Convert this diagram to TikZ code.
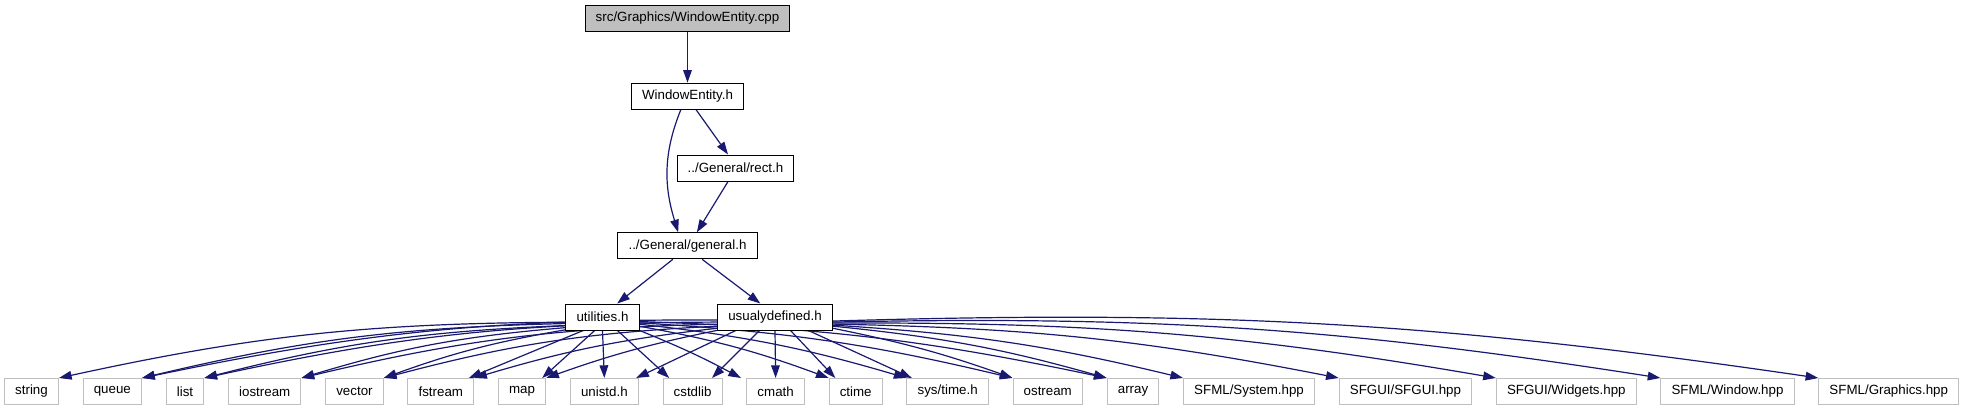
\documentclass[tikz,border=0pt]{standalone}
\usepackage{fontspec}
\setmainfont{Liberation Sans}
\usetikzlibrary{positioning, arrows.meta, backgrounds}
\definecolor{edgeblue}{RGB}{25,25,112}
\definecolor{greyline}{RGB}{191,191,191}

\begin{document}
\begin{tikzpicture}[
    x=0.75pt, y=-0.75pt,
    % Boxes drawn the doxygen way
    file/.style={
        draw=black,
        fill=white,
        rectangle,
        line width=0.75pt,
        minimum height=19.5pt,
        inner xsep=8pt,
        inner ysep=0pt,
        font=\fontsize{10}{12}\selectfont
    },
    mainfile/.style={file, fill=greyline},
    sysfile/.style={file, draw=greyline},
    arr/.style={-{Triangle[length=9.5pt, width=6.5pt]}, draw=edgeblue, line width=0.9pt}
]
    \useasboundingbox (0,0) rectangle (1961,411);

    % --- Nodes ---
    \node[mainfile] (cpp) at (687.5,18.5) {src/Graphics/WindowEntity.cpp};
    \node[file, below=38pt of cpp] (weh) {WindowEntity.h};
    \node[file, below=92pt of weh] (gen) {../General/general.h};
    \node[file] (rect) at (735.5,168) {../General/rect.h};
    \node[file] (util) at (602.5,317) {utilities.h};
    \node[file] (usual) at (775,317) {usualydefined.h};

    % Bottom row of system headers
    \node[sysfile] (string) at (31.5,391.5) {string};
    \node[sysfile, right=17.75pt of string] (queue) {queue};
    \node[sysfile, right=17.75pt of queue] (list) {list};
    \node[sysfile, right=17.75pt of list] (iostream) {iostream};
    \node[sysfile, right=17.75pt of iostream] (vector) {vector};
    \node[sysfile, right=17.75pt of vector] (fstream) {fstream};
    \node[sysfile, right=17.75pt of fstream] (map) {map};
    \node[sysfile, right=17.75pt of map] (unistd) {unistd.h};
    \node[sysfile, right=17.75pt of unistd] (cstdlib) {cstdlib};
    \node[sysfile, right=17.75pt of cstdlib] (cmath) {cmath};
    \node[sysfile, right=17.75pt of cmath] (ctime) {ctime};
    \node[sysfile, right=17.75pt of ctime] (systime) {sys/time.h};
    \node[sysfile, right=17.75pt of systime] (ostream) {ostream};
    \node[sysfile, right=17.75pt of ostream] (array) {array};
    \node[sysfile, right=17.75pt of array] (sfsys) {SFML/System.hpp};
    \node[sysfile, right=17.75pt of sfsys] (sfgui) {SFGUI/SFGUI.hpp};
    \node[sysfile, right=17.75pt of sfgui] (sfwid) {SFGUI/Widgets.hpp};
    \node[sysfile, right=17.75pt of sfwid] (sfwin) {SFML/Window.hpp};
    \node[sysfile, right=17.75pt of sfwin] (sfgfx) {SFML/Graphics.hpp};

    % --- Edges ---
    \begin{scope}[on background layer]
    % Upper part
    \draw[arr] (cpp) -- (weh);
    \draw[arr] ([xshift=-5pt]weh.south) to[out=248, in=107] ([xshift=-7pt]gen.north);
    \draw[arr] ([xshift=6.4pt]weh.south) -- ([xshift=-5.6pt]rect.north);
    \draw[arr] ([xshift=-5.6pt]rect.south) -- ([xshift=7pt]gen.north);
    \draw[arr] ([xshift=-11pt]gen.south) -- ([xshift=11pt]util.north);
    \draw[arr] ([xshift=11pt]gen.south) -- ([xshift=-11pt]usual.north);

    % From utilities.h
    \draw[arr] (util.188) to[bend right=6] (string.north east);
    \draw[arr] (util.190) to[bend right=6] (queue.north east);
    \draw[arr] (util.193) to[bend right=6] (list.north east);
    \draw[arr] (util.196) to[bend right=6] (iostream.north east);
    \draw[arr] (util.199) to[bend right=5] (vector.north east);
    \draw[arr] (util.215) -- ([xshift=-4pt]fstream.north east);
    \draw[arr] (util.240) -- ([xshift=-3pt]map.north east);
    \draw[arr] (util.south) -- (unistd.north);
    \draw[arr] (util.318) -- ([xshift=5pt]cstdlib.north west);
    \draw[arr] (util.340) to[bend left=3] ([xshift=-4pt]cmath.north west);
    \draw[arr] (util.346) to[bend left=5] (ctime.north west);
    \draw[arr] (util.349) to[bend left=5] (systime.north west);
    \draw[arr] (util.351) to[bend left=5] (ostream.north west);
    \draw[arr] (util.353) to[bend left=5] (array.north west);

    % From usualydefined.h
    \draw[arr] (usual.183) to[bend right=6] (queue.north east);
    \draw[arr] (usual.185) to[bend right=6] (list.north east);
    \draw[arr] (usual.187) to[bend right=6] (iostream.north east);
    \draw[arr] (usual.189) to[bend right=6] (vector.north east);
    \draw[arr] (usual.191) to[bend right=5] (fstream.north east);
    \draw[arr] (usual.193) to[bend right=4] (map.north east);
    \draw[arr] (usual.199) -- ([xshift=-2pt]unistd.north east);
    \draw[arr] (usual.221) -- ([xshift=-8pt]cstdlib.north east);
    \draw[arr] (usual.south) -- (cmath.north);
    \draw[arr] (usual.319) -- ([xshift=5pt]ctime.north west);
    \draw[arr] (usual.338) -- ([xshift=4pt]systime.north west);
    \draw[arr] (usual.349) to[bend left=4] (ostream.north west);
    \draw[arr] (usual.351) to[bend left=5] (array.north west);
    \draw[arr] (usual.352) to[bend left=5] (sfsys.north west);
    \draw[arr] (usual.353) to[bend left=5] (sfgui.north west);
    \draw[arr] (usual.354) to[bend left=5] (sfwid.north west);
    \draw[arr] (usual.355) to[bend left=5] (sfwin.north west);
    \draw[arr] (usual.356) to[bend left=5] (sfgfx.north west);
    \end{scope}

\end{tikzpicture}
\end{document}
